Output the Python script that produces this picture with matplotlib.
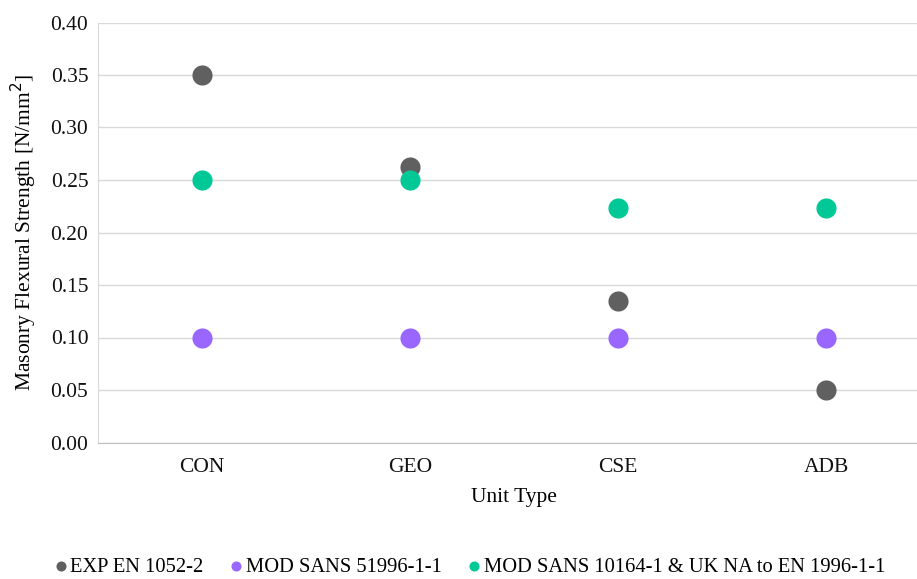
import matplotlib.pyplot as plt
import numpy as np

plt.rcParams['font.family'] = ['Liberation Serif', 'DejaVu Serif']

units = ['CON', 'GEO', 'CSE', 'ADB']
exp_en1052 = [0.35, 0.262, 0.135, 0.05]
mod_sans51996 = [0.10, 0.10, 0.10, 0.10]
mod_sans10164 = [0.25, 0.25, 0.223, 0.223]

series = [
    ('EXP EN 1052-2', exp_en1052, '#606060'),
    ('MOD SANS 51996-1-1', mod_sans51996, '#9966FF'),
    ('MOD SANS 10164-1 & UK NA to EN 1996-1-1', mod_sans10164, '#00C896'),
]

fig = plt.figure(figsize=(9.17, 5.79), dpi=100)
# plot area runs a little past the right edge of the figure
ax = fig.add_axes([98 / 917, 1 - 442.5 / 579, 832 / 917, 420 / 579])

x = np.arange(len(units)) + 0.5
for i, (name, vals, col) in enumerate(series):
    ax.scatter(x, vals, s=210, color=col, label=name, zorder=3 + i, linewidths=0)

ax.set_xlim(0, len(units))
ax.set_ylim(0, 0.40)
ax.set_yticks(np.arange(0, 0.401, 0.05))
ax.set_yticklabels([f'{v:.2f}' for v in np.arange(0, 0.401, 0.05)])
ax.set_xticks(x)
ax.set_xticklabels(units)
ax.tick_params(axis='both', length=0, labelsize=15.5, colors='#111111')
ax.tick_params(axis='x', pad=11)
ax.tick_params(axis='y', pad=7)

ax.grid(axis='y', color='#D9D9D9', linewidth=1)
ax.set_axisbelow(True)
for side in ['top', 'right']:
    ax.spines[side].set_visible(False)
ax.spines['left'].set_color('#D9D9D9')
ax.spines['bottom'].set_color('#BFBFBF')

ax.set_xlabel('Unit Type', fontsize=15.5, labelpad=8)
ax.set_ylabel('Masonry Flexural Strength [N/mm$^2$]', fontsize=15.5, labelpad=8)

fig.legend(loc='center', bbox_to_anchor=(470 / 917, 1 - 567 / 579), ncol=3,
           frameon=False, fontsize=14.8, markerscale=0.5, handlelength=0.6,
           handletextpad=0.15, columnspacing=1.3)

fig.savefig('out.png', dpi=100)
